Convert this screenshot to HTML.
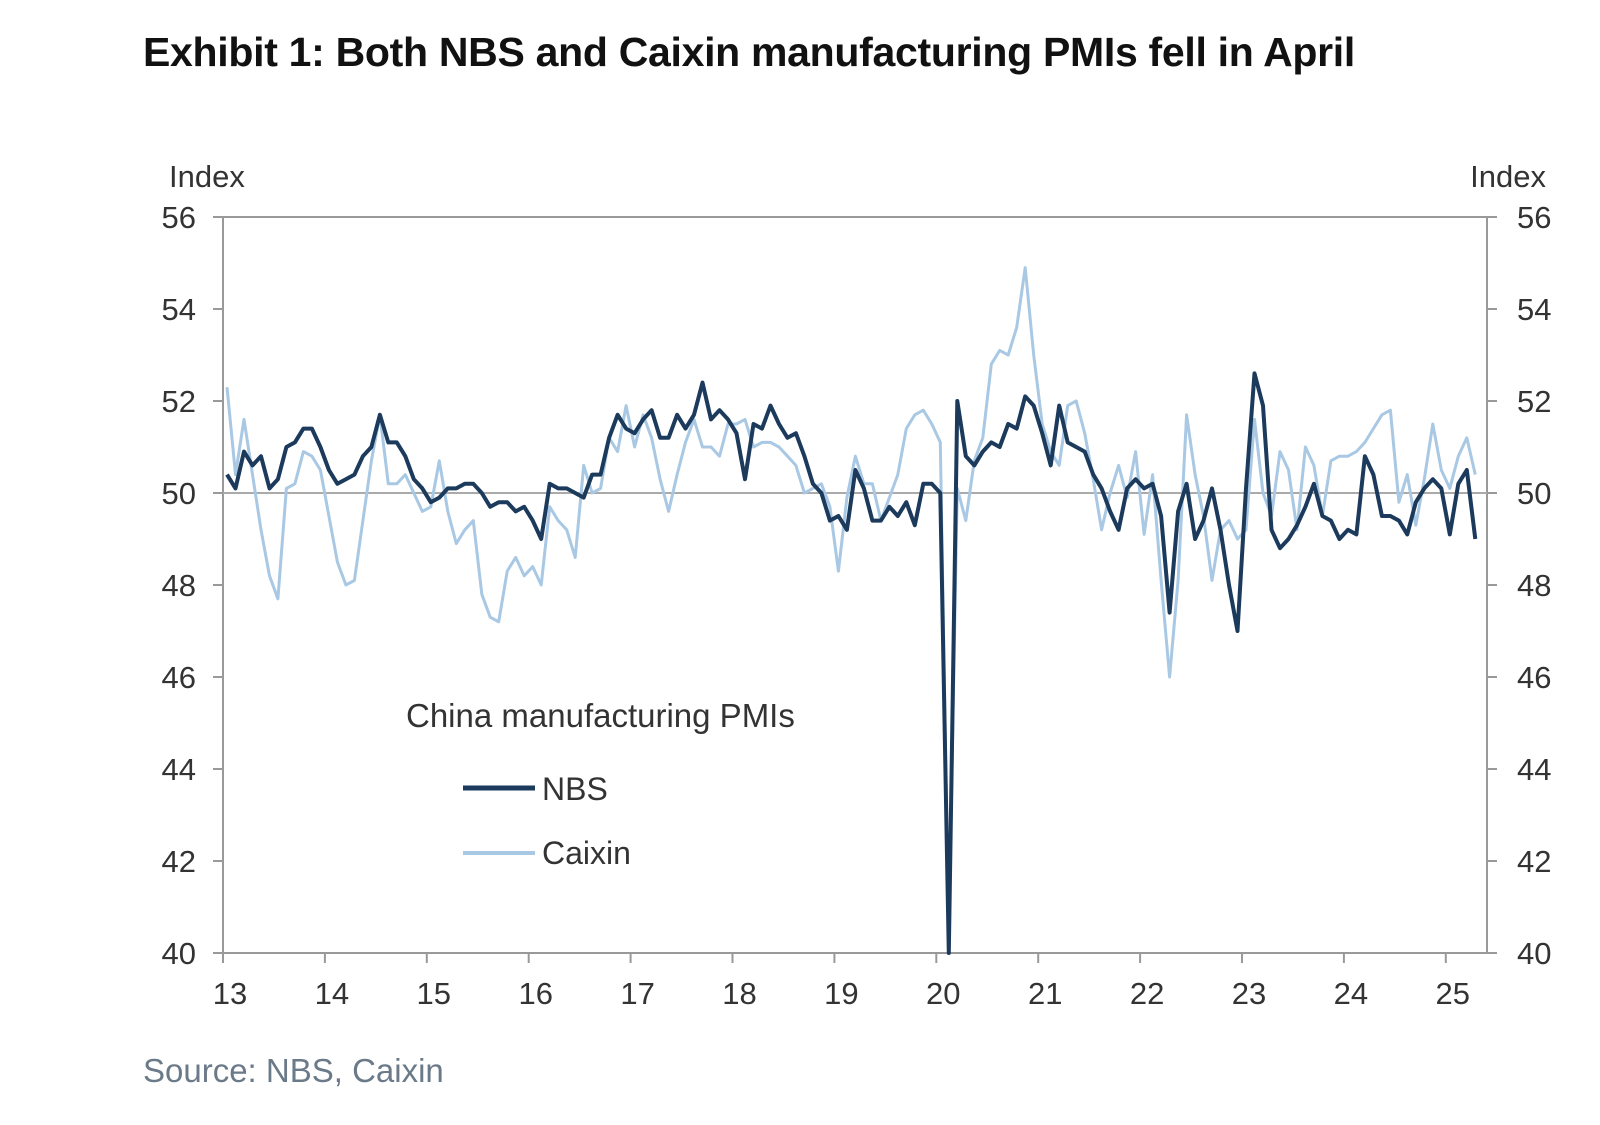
<!DOCTYPE html>
<html><head><meta charset="utf-8"><style>
html,body{margin:0;padding:0;background:#fff;}
body{width:1600px;height:1125px;position:relative;overflow:hidden;font-family:"Liberation Sans",sans-serif;}
#title{position:absolute;left:143px;top:29px;font-family:"Liberation Sans Narrow","Liberation Sans",sans-serif;font-weight:bold;font-size:41px;color:#111;letter-spacing:-0.3px;}
#source{position:absolute;left:143px;top:1052px;font-family:"Liberation Sans Narrow","Liberation Sans",sans-serif;font-size:33px;color:#6b7a88;}
svg{position:absolute;left:0;top:0;}
</style></head><body>
<div id="title">Exhibit 1: Both NBS and Caixin manufacturing PMIs fell in April</div>
<svg id="chart" width="1600" height="1125"></svg>
<div id="source">Source: NBS, Caixin</div>
<script>
const yearLabels=["13","14","15","16","17","18","19","20","21","22","23","24","25"];
const yTicks=[40,42,44,46,48,50,52,54,56];
const nbs=[50.4,50.1,50.9,50.6,50.8,50.1,50.3,51.0,51.1,51.4,51.4,51.0,
50.5,50.2,50.3,50.4,50.8,51.0,51.7,51.1,51.1,50.8,50.3,50.1,
49.8,49.9,50.1,50.1,50.2,50.2,50.0,49.7,49.8,49.8,49.6,49.7,
49.4,49.0,50.2,50.1,50.1,50.0,49.9,50.4,50.4,51.2,51.7,51.4,
51.3,51.6,51.8,51.2,51.2,51.7,51.4,51.7,52.4,51.6,51.8,51.6,
51.3,50.3,51.5,51.4,51.9,51.5,51.2,51.3,50.8,50.2,50.0,49.4,
49.5,49.2,50.5,50.1,49.4,49.4,49.7,49.5,49.8,49.3,50.2,50.2,
50.0,35.7,52.0,50.8,50.6,50.9,51.1,51.0,51.5,51.4,52.1,51.9,
51.3,50.6,51.9,51.1,51.0,50.9,50.4,50.1,49.6,49.2,50.1,50.3,
50.1,50.2,49.5,47.4,49.6,50.2,49.0,49.4,50.1,49.2,48.0,47.0,
50.1,52.6,51.9,49.2,48.8,49.0,49.3,49.7,50.2,49.5,49.4,49.0,
49.2,49.1,50.8,50.4,49.5,49.5,49.4,49.1,49.8,50.1,50.3,50.1,
49.1,50.2,50.5,49.0];
const caixin=[52.3,50.4,51.6,50.4,49.2,48.2,47.7,50.1,50.2,50.9,50.8,50.5,
49.5,48.5,48.0,48.1,49.4,50.7,51.7,50.2,50.2,50.4,50.0,49.6,
49.7,50.7,49.6,48.9,49.2,49.4,47.8,47.3,47.2,48.3,48.6,48.2,
48.4,48.0,49.7,49.4,49.2,48.6,50.6,50.0,50.1,51.2,50.9,51.9,
51.0,51.7,51.2,50.3,49.6,50.4,51.1,51.6,51.0,51.0,50.8,51.5,
51.5,51.6,51.0,51.1,51.1,51.0,50.8,50.6,50.0,50.1,50.2,49.7,
48.3,49.9,50.8,50.2,50.2,49.4,49.9,50.4,51.4,51.7,51.8,51.5,
51.1,40.3,50.1,49.4,50.7,51.2,52.8,53.1,53.0,53.6,54.9,53.0,
51.5,50.9,50.6,51.9,52.0,51.3,50.3,49.2,50.0,50.6,49.9,50.9,
49.1,50.4,48.1,46.0,48.1,51.7,50.4,49.5,48.1,49.2,49.4,49.0,
49.2,51.6,50.0,49.5,50.9,50.5,49.2,51.0,50.6,49.5,50.7,50.8,
50.8,50.9,51.1,51.4,51.7,51.8,49.8,50.4,49.3,50.3,51.5,50.5,
50.1,50.8,51.2,50.4];
const L=223,R=1487,T=217,B=953,YMIN=40,YMAX=56,YEARW=101.9;
const xM=i=>L+YEARW*(i/12)+4;
const yV=v=>B-(Math.max(v,YMIN)-YMIN)/(YMAX-YMIN)*(B-T);
const svg=document.getElementById('chart');
const NS='http://www.w3.org/2000/svg';
function mk(tag,attrs,parent){const e=document.createElementNS(NS,tag);for(const k in attrs)e.setAttribute(k,attrs[k]);(parent||svg).appendChild(e);return e;}
function txt(s,x,y,anchor,size,name){const t=mk('text',{x:x,y:y,'text-anchor':anchor,'font-size':size,fill:'#333','font-family':'Liberation Sans, sans-serif'});t.textContent=s;


return t;}
const frame=mk('g',{stroke:'#999','stroke-width':2,fill:'none'});


mk('line',{x1:L,y1:T,x2:R,y2:T},frame);
mk('line',{x1:L,y1:T,x2:L,y2:B},frame);
mk('line',{x1:R,y1:T,x2:R,y2:B},frame);
mk('line',{x1:L,y1:B,x2:R,y2:B},frame);
const ref=mk('line',{x1:L,y1:yV(50),x2:R,y2:yV(50),stroke:'#aaa','stroke-width':2});


yTicks.forEach(v=>{const y=yV(v);
mk('line',{x1:L-10,y1:y,x2:L,y2:y,stroke:'#999','stroke-width':2});
mk('line',{x1:R,y1:y,x2:R+10,y2:y,stroke:'#999','stroke-width':2});
txt(String(v),196,y+11,'end',31,'left-y-tick-label');
txt(String(v),1517,y+11,'start',31,'right-y-tick-label');});
yearLabels.forEach((s,i)=>{const x=L+YEARW*i;
mk('line',{x1:x,y1:B,x2:x,y2:B+10,stroke:'#999','stroke-width':2});
txt(s,x+7,1004,'middle',31,'x-tick-label');});
txt('Index',169,187,'start',31,'left-axis-title');
txt('Index',1546,187,'end',31,'right-axis-title');
function line(arr,color,w,name){let d='';arr.forEach((v,i)=>{d+=(i?'L':'M')+xM(i).toFixed(1)+','+yV(v).toFixed(1);});
const p=mk('path',{d:d,fill:'none',stroke:color,'stroke-width':w,'stroke-linejoin':'round'});

}
line(caixin,'#a9c8e4',3,'caixin-line');
line(nbs,'#1b3a5c',4,'nbs-line');
txt('China  manufacturing  PMIs',406,727,'start',33,'legend-title');
mk('line',{x1:463,y1:788,x2:535,y2:788,stroke:'#1b3a5c','stroke-width':5});
txt('NBS',542,800,'start',32,'legend-entry-nbs');
mk('line',{x1:463,y1:853,x2:535,y2:853,stroke:'#a9c8e4','stroke-width':4});
txt('Caixin',542,864,'start',32,'legend-entry-caixin');
</script>
</body></html>
